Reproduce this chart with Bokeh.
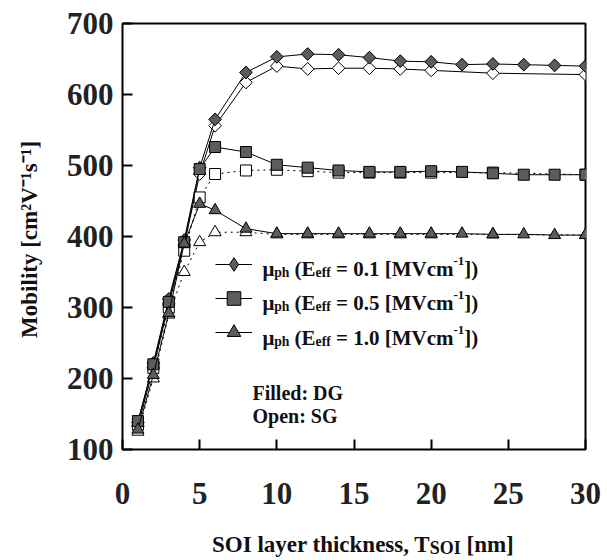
import math
from bokeh.plotting import figure
from bokeh.models import Label, Legend, LegendItem, FixedTicker, Range1d, Div, ColumnDataSource
from bokeh.layouts import column
from bokeh.embed import file_html
from bokeh.resources import INLINE

# ---------------- data ----------------
x_dg = [1, 2, 3, 4, 5, 6, 8, 10, 12, 14, 16, 18, 20, 22, 24, 26, 28, 30]
x_sg = [1, 2, 3, 4, 5, 6, 8, 10, 12, 14, 16, 18, 20, 24, 30]

dg_01 = [138, 222, 312, 395, 497, 565, 631, 653, 657, 656, 652, 647, 646, 642, 643, 642, 641, 640]
sg_01 = [133, 215, 305, 388, 488, 556, 617, 640, 636, 637, 637, 636, 634, 630, 628]

dg_05 = [140, 220, 308, 392, 495, 526, 519, 501, 497, 493, 491, 491, 492, 491, 489, 487, 487, 487]
sg_05 = [135, 215, 300, 380, 455, 488, 493, 494, 492, 490, 490, 490, 490, 490, 487]

dg_10 = [128, 205, 292, 390, 446, 437, 411, 404, 404, 404, 404, 404, 404, 404, 403, 403, 402, 402]
sg_10 = [125, 200, 290, 350, 392, 406, 406, 403, 403, 403, 403, 403, 403, 403, 402]

x_ticks = [0, 5, 10, 15, 20, 25, 30]
y_ticks = [100, 200, 300, 400, 500, 600, 700]
legend_vals = ["0.1", "0.5", "1.0"]

FONT = "Liberation Serif"
FILL = "#5c5c5c"

p = figure(width=607, height=530, x_range=Range1d(0, 30), y_range=Range1d(100, 700),
           output_backend="svg", toolbar_location=None, title=None,
           min_border_left=122, min_border_right=22, min_border_top=23, min_border_bottom=81)
p.grid.visible = False
p.outline_line_color = "black"
p.outline_line_width = 2
p.background_fill_color = "white"

for ax in (p.xaxis[0], p.yaxis[0]):
    ax.axis_line_color = None
    ax.major_tick_in = 10
    ax.major_tick_out = 0
    ax.minor_tick_line_color = None
    ax.major_tick_line_color = "black"
    ax.major_tick_line_width = 2
    ax.major_label_text_font = FONT
    ax.major_label_text_font_style = "bold"
    ax.major_label_text_font_size = "31px"
    ax.major_label_text_color = "#222222"
p.xaxis[0].ticker = FixedTicker(ticks=x_ticks)
p.yaxis[0].ticker = FixedTicker(ticks=y_ticks)
p.xaxis[0].major_label_standoff = 33
p.yaxis[0].major_label_standoff = 9

p.yaxis[0].axis_label = "Mobility  [cm\u00b2V\u207b\u00b9s\u207b\u00b9]"
p.yaxis[0].axis_label_text_font = FONT
p.yaxis[0].axis_label_text_font_style = "bold"
p.yaxis[0].axis_label_text_font_size = "23px"
p.yaxis[0].axis_label_text_color = "#111111"
p.yaxis[0].axis_label_standoff = 22

# ---- SG (open) series ----
p.line(x_sg, sg_01, line_color="black", line_width=1)
p.scatter(x_sg, sg_01, marker="square", angle=math.pi / 4, size=9, fill_color="white", line_color="black", line_width=1)
p.line(x_sg, sg_05, line_color="black", line_width=1, line_dash="2 4")
p.scatter(x_sg, sg_05, marker="square", size=11, fill_color="white", line_color="black", line_width=1)
p.line(x_sg, sg_10, line_color="black", line_width=1, line_dash="2 4")
p.scatter(x_sg, sg_10, marker="triangle", size=12, fill_color="white", line_color="black", line_width=1)

# ---- DG (filled) series ----
src01 = ColumnDataSource(dict(x=x_dg, y=dg_01))
l1 = p.line("x", "y", source=src01, line_color="black", line_width=1)
# diamond used for the legend sample; fully covered by the rotated squares drawn next
s1 = p.scatter("x", "y", source=src01, marker="diamond", size=12, fill_color=FILL,
               line_color="black", line_width=1)
p.scatter("x", "y", source=src01, marker="square", angle=math.pi / 4, size=9, fill_color=FILL,
          line_color="black", line_width=1)
l2 = p.line(x_dg, dg_05, line_color="black", line_width=1)
s2 = p.scatter(x_dg, dg_05, marker="square", size=11, fill_color=FILL, line_color="black", line_width=1)
l3 = p.line(x_dg, dg_10, line_color="black", line_width=1)
s3 = p.scatter(x_dg, dg_10, marker="triangle", size=12, fill_color=FILL, line_color="black", line_width=1)

legend = Legend(items=[LegendItem(label=" ", renderers=[l1, s1]),
                       LegendItem(label=" ", renderers=[l2, s2]),
                       LegendItem(label=" ", renderers=[l3, s3])],
                location=(93, 100), orientation="vertical", glyph_width=37, glyph_height=34,
                spacing=0, padding=0, margin=0, label_standoff=0, label_width=0, label_height=34,
                border_line_color=None, background_fill_alpha=0, label_text_font_size="1px")
p.add_layout(legend)

# ---- rich text helper (Times-compatible bold advance widths /1000 em) ----
W = {" ": 250, "(": 333, ")": 333, "[": 333, "]": 333, "=": 570, ".": 250, "-": 333, ",": 250, ":": 333,
     "M": 944, "V": 722, "E": 667, "S": 556, "O": 778, "I": 389, "T": 667, "F": 611, "D": 722, "G": 778,
     "c": 444, "m": 833, "e": 444, "f": 333, "p": 556, "h": 556, "l": 278, "a": 500, "y": 500, "r": 444,
     "t": 333, "i": 278, "k": 556, "n": 556, "s": 389, "d": 556, "o": 500, "b": 556, "\u03bc": 556}


def tw(s, size):
    return sum(W.get(ch, 500) for ch in s) * size / 1000.0


def rich(x0, y0, parts, base):
    x = x0
    for txt, kind in parts:
        if kind == "sub":
            size, dy = base * 0.65, -base * 0.18
        elif kind == "sup":
            size, dy = base * 0.62, base * 0.38
        else:
            size, dy = base, 0
        lead = len(txt) - len(txt.lstrip(" "))
        x += tw(" " * lead, size)
        core = txt.strip(" ")
        if core:
            p.add_layout(Label(x=x, y=y0 + dy, x_units="screen", y_units="screen", text=core,
                               text_font=FONT, text_font_style="bold", text_font_size=f"{size:.1f}px",
                               text_baseline="alphabetic", text_align="left", text_color="#111111"))
        x += tw(core, size)
        trail = len(txt) - len(txt.rstrip(" ")) if core else 0
        x += tw(" " * trail, size)


legend_y = [181, 147, 112]
for v, yy in zip(legend_vals, legend_y):
    rich(140, yy, [("\u03bc", "n"), ("ph", "sub"), (" (E", "n"), ("eff", "sub"),
                   (f" = {v} [MVcm", "n"), ("-1", "sup"), ("])", "n")], 21)

rich(130, 57, [("Filled: DG", "n")], 20)
rich(130, 34, [("Open: SG", "n")], 20)

xlabel = Div(
    text=('<div style="font-family:\'Liberation Serif\',serif;font-weight:bold;font-size:23px;'
          'line-height:30px;color:#111;white-space:nowrap;padding-left:212px;">'
          'SOI layer thickness, T<span style="font-size:18px;position:relative;top:2px;">SOI</span>'
          ' [nm]</div>'),
    width=607, height=30, margin=0)

layout = column(p, xlabel, spacing=0)
open("out.html", "w").write(file_html(layout, INLINE))
